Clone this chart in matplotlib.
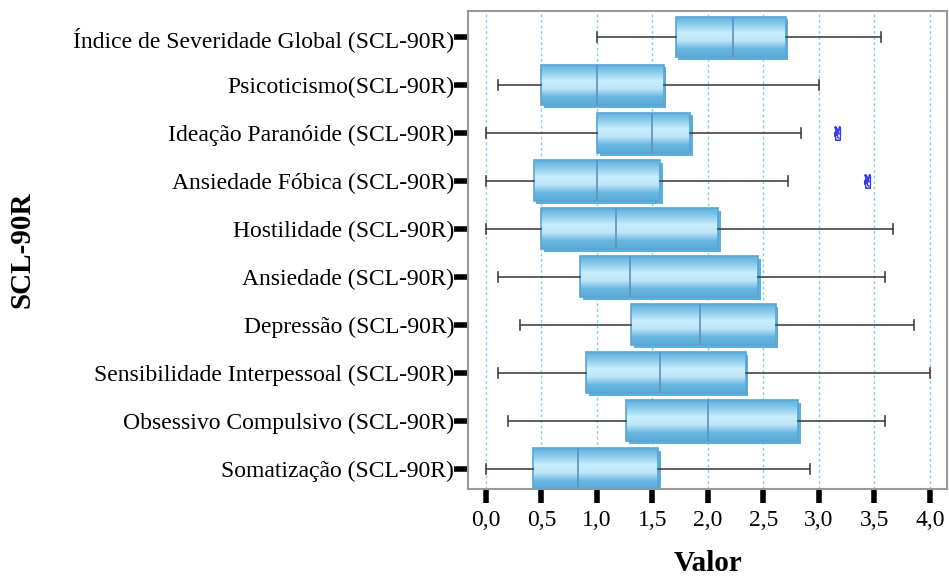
import numpy as np
import matplotlib.pyplot as plt
from matplotlib.colors import LinearSegmentedColormap
from matplotlib.patches import PathPatch
from matplotlib.transforms import ScaledTranslation

plt.rcParams['font.family'] = ['Liberation Serif', 'DejaVu Serif']

# Categories listed top to bottom as in the chart
categories = ['Índice de Severidade Global (SCL-90R)', 'Psicoticismo(SCL-90R)',
              'Ideação Paranóide (SCL-90R)', 'Ansiedade Fóbica (SCL-90R)',
              'Hostilidade (SCL-90R)', 'Ansiedade (SCL-90R)', 'Depressão (SCL-90R)',
              'Sensibilidade Interpessoal (SCL-90R)', 'Obsessivo Compulsivo (SCL-90R)',
              'Somatização (SCL-90R)']
whislo = [1.00, 0.11, 0.00, 0.00, 0.00, 0.11, 0.31, 0.11, 0.20, 0.00]
q1 = [1.71, 0.50, 1.00, 0.43, 0.50, 0.85, 1.31, 0.90, 1.26, 0.42]
med = [2.23, 1.00, 1.50, 1.00, 1.17, 1.30, 1.93, 1.57, 2.00, 0.83]
q3 = [2.70, 1.60, 1.84, 1.57, 2.09, 2.45, 2.61, 2.34, 2.81, 1.55]
whishi = [3.56, 3.00, 2.84, 2.72, 3.67, 3.60, 3.86, 4.00, 3.60, 2.92]
outliers = [[], [], [3.16], [3.43], [], [], [], [], [], []]
xticks = [0.0, 0.5, 1.0, 1.5, 2.0, 2.5, 3.0, 3.5, 4.0]

n = len(categories)
positions = list(range(n, 0, -1))
stats = [dict(whislo=whislo[i], q1=q1[i], med=med[i], q3=q3[i], whishi=whishi[i],
              fliers=outliers[i], label=categories[i]) for i in range(n)]

fig = plt.figure(figsize=(9.49, 5.79), dpi=100)
ax = fig.add_axes([468 / 949, 1 - 489 / 579, (947 - 468) / 949, (489 - 11) / 579])

bp = ax.bxp(stats, positions=positions, vert=False, widths=0.85, patch_artist=True,
            showfliers=True, capwidths=0.2,
            boxprops=dict(facecolor='none', edgecolor='#5aa4d2', linewidth=1.2),
            medianprops=dict(color='#5b93bb', linewidth=1.2),
            whiskerprops=dict(color='#444444', linewidth=1.2),
            capprops=dict(color='#444444', linewidth=1.2),
            flierprops=dict(marker='$\u270C$', markersize=10, markeredgewidth=0.6,
                            markerfacecolor='#3a3aee', markeredgecolor='#3a3aee'),
            zorder=3)

# gradient fill + drop shadow for each box
cmap = LinearSegmentedColormap.from_list('boxgrad', ['#5fb0dc', '#8ccdee', '#c8ecfb', '#bde6f8', '#6ab7e0', '#5aaada'])
grad = np.linspace(0, 1, 64).reshape(-1, 1)
shift = ScaledTranslation(2 / 72, -2 / 72, fig.dpi_scale_trans)
for box, pos, lo, hi in zip(bp['boxes'], positions, q1, q3):
    shadow = PathPatch(box.get_path(), transform=box.get_transform() + shift,
                       facecolor='#5ab0de', edgecolor='none', zorder=2)
    ax.add_patch(shadow)
    im = ax.imshow(grad, cmap=cmap, aspect='auto', origin='upper',
                   extent=[lo, hi, pos - 0.425, pos + 0.425], zorder=2.5)
    im.set_clip_path(box)

ax.set_xlim(-0.162, 4.155)
ax.set_ylim(0.58, 10.54)
ax.set_xticks(xticks, [f'{t:.1f}'.replace('.', ',') for t in xticks], fontsize=17)
ax.set_yticks(positions, categories, fontsize=17)
ax.tick_params(axis='y', length=10, width=4, pad=0, color='black')
ax.tick_params(axis='x', length=10, width=4, pad=5, color='black')

ax.grid(axis='x', color='#7fd2ee', linestyle=(0, (2, 2)), linewidth=1, zorder=0)
ax.set_axisbelow(True)
for s in ax.spines.values():
    s.set_color('#999999')
    s.set_linewidth(1.5)

ax.set_xlabel('Valor', fontsize=21, fontweight='bold', labelpad=14)
fig.text(22 / 949, 1 - 250 / 579, 'SCL-90R', rotation=90, fontsize=21,
         fontweight='bold', ha='center', va='center')

fig.savefig('out.png', dpi=100)
